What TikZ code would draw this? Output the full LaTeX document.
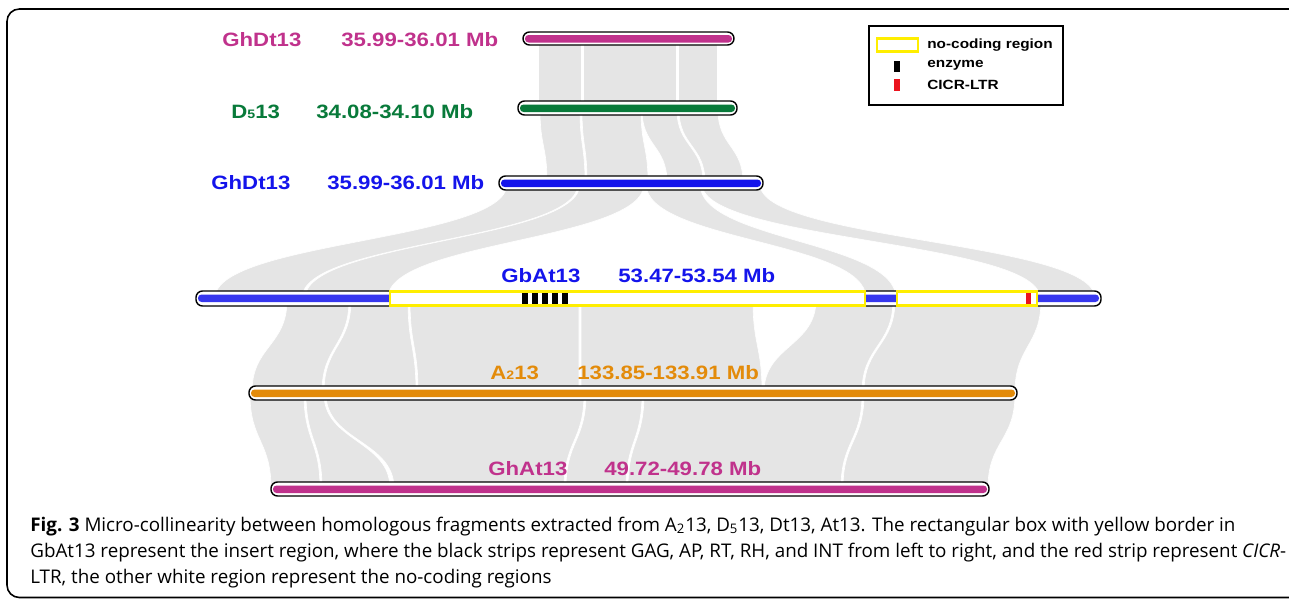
\documentclass[tikz,border=0pt]{standalone}
\usepackage{fontspec}
\setmainfont{Open Sans}
\newfontfamily\labfont{Liberation Sans}[FakeStretch=1.15]
\usetikzlibrary{positioning}

\definecolor{ribgray}{RGB}{229,229,229}
\definecolor{magC}{RGB}{192,50,140}
\definecolor{greenC}{RGB}{8,122,58}
\definecolor{blueC}{RGB}{20,20,235}
\definecolor{orangeC}{RGB}{227,139,10}
\definecolor{yellowC}{RGB}{255,238,0}
\definecolor{redC}{RGB}{235,20,30}

\begin{document}
\begin{tikzpicture}[x=0.02cm, y=-0.02cm,
  rib/.style={fill=ribgray, draw=white, line width=0.35pt},
  chrom/.style={draw=black, line width=0.8pt, fill=white, rounded corners=3.7pt},
  core/.style={rounded corners=2pt},
  nocode/.style={draw=yellowC, line width=1.2pt, fill=white},
  lab/.style={font=\labfont\bfseries\fontsize{11}{13}\selectfont, inner sep=0pt, anchor=base west},
  leg/.style={font=\labfont\bfseries\fontsize{7.6}{9}\selectfont, inner sep=0pt, anchor=west},
  captxt/.style={font=\fontsize{10.7}{13}\selectfont, inner sep=0pt, anchor=base west}]
\useasboundingbox (0,0) rectangle (1289,599);
\begin{scope}
\clip (0,0) rectangle (1289,599);
\draw [line width=0.9pt, rounded corners=7pt] (7,9) rectangle (1320,597.5); % frame
\end{scope}

% ribbons GhDt13 -- D5
\foreach \a/\b/\c/\d in {538/581/538/581, 583/676/583/676, 678/717/678/717}
  \draw [rib] (\a,40) .. controls (\a,73) and (\c,73) .. (\c,106) -- (\d,106) .. controls (\d,73) and (\b,73) .. (\b,40) -- cycle;
% ribbons D5 -- GhDt13
\foreach \a/\b/\c/\d in {540/580/547/585, 582/641/587/648, 642/677/667/703, 679/718/705/743}
  \draw [rib] (\a,110) .. controls (\a,146) and (\c,146) .. (\c,182) -- (\d,182) .. controls (\d,146) and (\b,146) .. (\b,110) -- cycle;
% ribbons GhDt13 -- GbAt13
\foreach \a/\b/\c/\d in {507/578/215/302, 580/644/305/388, 646/700/866/896, 702/760/1040/1095}
  \draw [rib] (\a,184) .. controls (\a,241) and (\c,241) .. (\c,298) -- (\d,298) .. controls (\d,241) and (\b,241) .. (\b,184) -- cycle;
% ribbons GbAt13 -- A2
\foreach \a/\b/\c/\d in {287/349/252/322, 351/408/324/416, 410/579/418/579, 581/753/581/762, 816/893/764/862, 895/1041/864/1015}
  \draw [rib] (\a,300) .. controls (\a,346) and (\c,346) .. (\c,392) -- (\d,392) .. controls (\d,346) and (\b,346) .. (\b,300) -- cycle;
% ribbons A2 -- GhAt13
\foreach \a/\b/\c/\d in {250/304/271/320, 306/324/322/390, 326/584/394/564, 586/642/566/626, 644/862/628/841, 864/1015/843/988}
  \draw [rib] (\a,394) .. controls (\a,441) and (\c,441) .. (\c,488) -- (\d,488) .. controls (\d,441) and (\b,441) .. (\b,394) -- cycle;

% chromosomes
\draw [chrom] (523,32) rectangle (734,45);
\fill [magC, core] (525,35) rectangle (732,42.5);
\draw [chrom] (518,101) rectangle (737,115);
\fill [greenC, core] (520,104.5) rectangle (735,112);
\draw [chrom] (499,176) rectangle (763,190);
\fill [blueC, core] (501,179.5) rectangle (761,187);
\draw [chrom] (196,291) rectangle (1101,306);
\fill [blueC!85!white, core] (198,294.5) rectangle (1099,302);
\draw [chrom] (249,386) rectangle (1017,400);
\fill [orangeC, core] (251,389.5) rectangle (1015,397);
\draw [chrom] (271,482) rectangle (989,496);
\fill [magC, core] (273,485.5) rectangle (987,493);

% insert regions on GbAt13
\draw [nocode] (390,291.5) rectangle (865,305.5);
\draw [nocode] (897,291.5) rectangle (1037,305.5);
\foreach \s in {522,532,542,552,562}
  \fill [black] (\s,293) rectangle (\s+6,304);
\fill [redC] (1026,293) rectangle (1031,304);

% labels
\node [lab, magC] (dtA) at (222,46) {GhDt13};
\node [lab, magC] (dtAmb) at (341,46) {35.99-36.01 Mb};
\node [lab, greenC] (dfive) at (231,118) {D\raisebox{-0.5pt}{\fontsize{7}{8}\selectfont 5}13};
\node [lab, greenC] (dfivemb) at (316,118) {34.08-34.10 Mb};
\node [lab, blueC] (dtB) at (211,189) {GhDt13};
\node [lab, blueC] (dtBmb) at (327,189) {35.99-36.01 Mb};
\node [lab, blueC] (gbat) at (501,282) {GbAt13};
\node [lab, blueC] (gbatmb) at (618,282) {53.47-53.54 Mb};
\node [lab, orangeC] (atwo) at (490,379) {A\raisebox{-0.5pt}{\fontsize{7}{8}\selectfont 2}13};
\node [lab, orangeC] (atwomb) at (577,379) {133.85-133.91 Mb};
\node [lab, magC] (ghat) at (488,475) {GhAt13};
\node [lab, magC] (ghatmb) at (604,475) {49.72-49.78 Mb};

% legend
\draw [line width=0.8pt] (869,26) rectangle (1063,105);
\draw [yellowC, line width=1.2pt] (877,38.5) rectangle (918,51.5);
\fill [black] (894,61) rectangle (900,72);
\fill [redC] (894,79) rectangle (900,91);
\node [leg] (lgnc) at (927,45) {no-coding region};
\node [leg] (lgenz) at (927,65.5) {enzyme};
\node [leg] (lgltr) at (927,85) {CICR-LTR};

% caption
\node [captxt] (capa) at (30,531) {\textbf{Fig. 3} Micro-collinearity between homologous fragments extracted from A\textsubscript{2}13, D\textsubscript{5}13, Dt13, At13. The rectangular box with yellow border in};
\node [captxt] (capb) at (30,557) {GbAt13 represent the insert region, where the black strips represent GAG, AP, RT, RH, and INT from left to right, and the red strip represent \textit{CICR}-};
\node [captxt] (capc) at (30,583) {LTR, the other white region represent the no-coding regions};
\end{tikzpicture}
\end{document}
